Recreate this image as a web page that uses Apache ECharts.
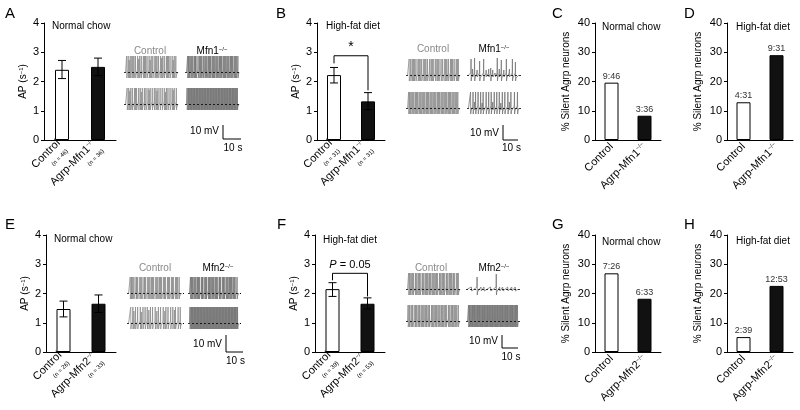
<!DOCTYPE html>
<html><head><meta charset="utf-8">
<script src="https://cdn.jsdelivr.net/npm/echarts@6/dist/echarts.min.js"></script>
<style>html,body{margin:0;padding:0;background:#fff}#c{width:800px;height:410px}</style>
</head><body><div id="c"></div>
<script>
// ================= DATA =================
const catsMfn1 = ['Control', 'Agrp-Mfn1'];
const catsMfn2 = ['Control', 'Agrp-Mfn2'];
const apTickMax = 4;       // AP axis 0..4
const silentTickMax = 40;  // % silent axis 0..40

// A: normal chow, Mfn1
const A_mean = [2.40, 2.50];
const A_low  = [2.10, 2.20];
const A_high = [2.72, 2.80];
const A_n    = [46, 36];
// B: high-fat diet, Mfn1
const B_mean = [2.22, 1.32];
const B_low  = [1.95, 1.04];
const B_high = [2.48, 1.62];
const B_n    = [31, 31];
const B_bracket = [2.62, 2.88, 1.70];
const B_sig = '*';
// C / D: % silent neurons, Mfn1
const C_pct = [19.6, 8.3];
const C_ratio = ['9:46', '3:36'];
const D_pct = [12.9, 29.0];
const D_ratio = ['4:31', '9:31'];
// E: normal chow, Mfn2
const E_mean = [1.47, 1.65];
const E_low  = [1.20, 1.35];
const E_high = [1.74, 1.95];
const E_n    = [26, 33];
// F: high-fat diet, Mfn2
const F_mean = [2.15, 1.65];
const F_low  = [1.90, 1.47];
const F_high = [2.37, 1.85];
const F_n    = [39, 53];
const F_bracket = [2.45, 2.69, 1.90];
const F_sig = 'P = 0.05';
// G / H: % silent neurons, Mfn2
const G_pct = [26.9, 18.2];
const G_ratio = ['7:26', '6:33'];
const H_pct = [5.1, 22.6];
const H_ratio = ['2:39', '12:53'];

// Spike trains (time 0..100 of the sweep; [time, height] where height differs)
const trA_ctrl1 = [2,5,[7,12],9,12,14,16,19,23,[25,13],27,30,34,36,38,41,45,[47,12],49,52,56,58,60,63,67,[69,14],71,74,78,80,82,85,89,[91,12],93,96];
const trA_ctrl2 = [3,6,[8,13],10,13,17,19,21,25,28,[30,12],32,36,39,43,[45,14],47,51,55,58,[60,13],62,66,70,74,[76,12],78,81,85,89,[91,14],93,97];
const trA_mut1  = [2,4,5,8,10,12,15,17,18,22,25,27,29,32,35,37,39,42,44,46,49,51,53,56,58,60,63,65,67,70,72,74,77,79,81,84,86,88,91,93,95,98];
const trA_mut2  = [1,3,4,6,7,9,10,12,13,15,16,18,19,21,22,24,25,27,28,30,31,33,34,36,37,39,40,42,43,45,46,48,49,51,52,54,55,57,58,60,61,63,64,66,67,69,70,72,73,75,76,78,79,81,82,84,85,87,88,90,91,93,94,96,97];
const trB_ctrl1 = [3,6,9,11,13,16,20,22,24,27,31,33,35,38,42,45,47,49,53,56,58,60,64,67,71,73,75,78,82,84,86,89,93,95,97];
const trB_ctrl2 = [2,4,5,8,10,12,15,17,19,22,24,26,29,31,33,36,38,40,43,45,47,50,52,54,57,59,61,64,66,68,71,73,75,78,80,82,85,87,89,92,94,96];
const trB_mut1  = [[5,16],[8,6],[12,17],[17,5],[22,14],[30,16],[35,5],[40,6],[44,7],[48,5],[53,4],[57,17],[61,6],[65,15],[70,5],[75,16],[81,6],[87,16],[93,13]];
const trB_mut2  = [4,9,[12,6],14,19,24,[27,5],29,35,40,45,[48,6],51,56,61,[64,5],67,72,78,[81,6],84,91,97];
const trE_ctrl1 = [3,5,6,8,10,14,15,17,21,23,25,29,30,32,36,38,40,43,45,47,51,53,55,58,60,62,66,67,69,73,75,77,81,82,84,88,90,92,95];
const trE_ctrl2 = [4,8,[10,12],13,17,22,[24,11],27,31,35,[38,13],41,45,50,[53,12],56,60,65,[68,12],70,74,79,83,[86,13],88,93,97];
const trE_mut1  = [2,4,6,9,11,13,16,18,20,24,26,27,31,33,34,38,40,42,45,47,49,52,54,56,60,61,63,67,69,70,74,76,78,81,83,85,88,90,92,96];
const trE_mut2  = [1,3,4,6,7,9,10,12,13,15,16,18,19,21,22,24,25,27,28,30,31,33,34,36,37,39,40,42,43,45,46,48,49,51,52,54,55,57,58,60,61,63,64,66,67,69,70,72,73,75,76,78,79,81,82,84,85,87,88,90,91,93,94,96,97];
const trF_ctrl1 = [2,4,5,8,10,11,15,16,18,21,23,24,28,29,31,34,36,38,41,42,44,47,49,51,54,55,57,61,62,64,67,69,70,74,75,77,80,82,84,87,88,90,94,95,97];
const trF_ctrl2 = [1,3,4,7,9,10,14,15,17,20,22,23,26,28,30,33,35,36,39,41,42,46,47,49,52,54,55,58,60,62,65,66,68,71,73,74,78,79,81,84,86,87,90,92,94,97];
const trF_mut1  = [[8,3],[19,12],[27,2],[33,3],[46,2],[57,15],[64,2],[70,3],[80,2],[88,2],[95,2]];
const trF_mut2  = [2,4,5,7,9,10,12,14,15,17,19,20,22,24,25,27,29,30,32,34,35,37,39,40,42,44,45,47,49,50,52,54,55,57,59,60,62,64,65,67,69,70,72,74,75,77,79,80,82,84,85,87,89,90,92,94,95,97,99];

// ================= BUILD =================
const FONT = '"Liberation Sans", Arial, Helvetica, sans-serif';
const grids = [], xAxes = [], yAxes = [], series = [], graphics = [];

function errRender(params, api) {
  const i = api.value(0);
  const lo = api.coord([i, api.value(1)]);
  const hi = api.coord([i, api.value(2)]);
  const w = 4, st = {stroke: '#000', lineWidth: 1};
  return {type: 'group', children: [
    {type: 'line', shape: {x1: lo[0], y1: lo[1], x2: hi[0], y2: hi[1]}, style: st},
    {type: 'line', shape: {x1: lo[0]-w, y1: lo[1], x2: lo[0]+w, y2: lo[1]}, style: st},
    {type: 'line', shape: {x1: hi[0]-w, y1: hi[1], x2: hi[0]+w, y2: hi[1]}, style: st}
  ]};
}
function bracketRender(label) {
  return function(params, api) {
    const a = api.coord([0, api.value(1)]);
    const b = api.coord([0, api.value(2)]);
    const c = api.coord([1, api.value(2)]);
    const d = api.coord([1, api.value(3)]);
    const st = {stroke: '#000', lineWidth: 1, fill: null};
    const isP = label.indexOf('P') === 0;
    return {type: 'group', children: [
      {type: 'polyline', shape: {points: [a, b, c, d]}, style: st},
      {type: 'text', x: (b[0]+c[0])/2, y: b[1] - (isP ? 8 : 9), style: {
        text: isP ? '{i|P}' + label.slice(1) : label,
        rich: {i: {fontStyle: 'italic', fontSize: 11, fontFamily: FONT}},
        fontSize: isP ? 11 : 14, fontFamily: FONT, fill: '#000', align: 'center', verticalAlign: 'middle'}}
    ]};
  };
}

function addBarPanel(cfg) {
  const gi = grids.length;
  grids.push({left: cfg.left, top: cfg.top, width: cfg.width, height: cfg.height, containLabel: false});
  xAxes.push({gridIndex: gi, type: 'category', data: cfg.cats, boundaryGap: true,
    axisLine: {lineStyle: {color: '#000', width: 1}},
    axisTick: {alignWithLabel: true, length: 4, lineStyle: {color: '#000'}},
    axisLabel: {rotate: 45, margin: 5, fontSize: 11, color: '#000', fontFamily: FONT, interval: 0,
      formatter: function (v, idx) {
        let s = v.indexOf('Agrp') === 0 ? v + '{sup|−/−}' : v;
        if (cfg.n) s += '\n{n|(n = ' + cfg.n[idx] + ')}';
        return s;
      },
      rich: {sup: {fontSize: 6, verticalAlign: 'top', fontFamily: FONT, color: '#000'},
             n: {fontSize: 6, fontFamily: FONT, color: '#000', padding: [4, 0, 0, 0]}}}
  });
  yAxes.push({gridIndex: gi, type: 'value', min: 0, max: cfg.max, interval: cfg.max / 4,
    splitLine: {show: false},
    axisLine: {show: true, lineStyle: {color: '#000', width: 1}},
    axisTick: {show: true, length: 3, lineStyle: {color: '#000'}},
    axisLabel: {fontSize: 11, color: '#000', fontFamily: FONT, margin: 5},
    name: cfg.yname, nameLocation: 'middle', nameGap: cfg.nameGap, nameRotate: 90,
    nameTextStyle: {fontSize: 10, color: '#000', fontFamily: FONT,
      rich: {sup: {fontSize: 6, verticalAlign: 'top', fontFamily: FONT, color: '#000'}}}
  });
  series.push({type: 'bar', xAxisIndex: gi, yAxisIndex: gi, barWidth: 14,
    data: cfg.values.map((v, i) => ({value: v, itemStyle: {color: i === 0 ? '#fff' : '#111', borderColor: '#000', borderWidth: 1}})),
    label: cfg.ratio ? {show: true, position: 'top', distance: 2, fontSize: 9, color: '#333', fontFamily: FONT,
      formatter: p => cfg.ratio[p.dataIndex]} : {show: false},
    silent: true, animation: false, z: 2});
  if (cfg.low) {
    series.push({type: 'custom', xAxisIndex: gi, yAxisIndex: gi, renderItem: errRender,
      data: cfg.low.map((l, i) => [i, l, cfg.high[i]]), z: 3, animation: false, silent: true});
  }
  if (cfg.bracket) {
    series.push({type: 'custom', xAxisIndex: gi, yAxisIndex: gi, renderItem: bracketRender(cfg.sig),
      data: [[0, cfg.bracket[0], cfg.bracket[1], cfg.bracket[2]]], z: 3, animation: false, silent: true, clip: false});
  }
}

// each spike drawn with a fixed waveform template (rise, peak, after-hyperpolarisation, recovery)
function spikePoints(train) {
  const pts = [[0, 0]];
  train.forEach(s => {
    const t = Array.isArray(s) ? s[0] : s;
    const h = Array.isArray(s) ? s[1] : 16;
    const d = h > 6 ? -6 : -2;
    pts.push([t - 0.4, 2], [t, h], [t + 0.35, d], [t + 0.9, -3], [t + 1.4, -1]);
  });
  pts.push([100, 0]);
  return pts;
}

function addTrace(train, left, baseline, width, color) {
  const gi = grids.length;
  const top = baseline - 17;
  grids.push({left: left, top: top, width: width, height: 24});
  xAxes.push({gridIndex: gi, type: 'value', min: -3, max: 104, show: false});
  yAxes.push({gridIndex: gi, type: 'value', min: -7, max: 17, show: false});
  series.push({type: 'line', xAxisIndex: gi, yAxisIndex: gi, data: spikePoints(train), showSymbol: false,
    lineStyle: {color: color, width: 0.8}, animation: false, silent: true,
    markLine: {symbol: 'none', silent: true, label: {show: false}, animation: false,
      lineStyle: {color: '#000', type: [2, 2], width: 0.8}, data: [{yAxis: 0}]}});
}

// bar panels
addBarPanel({left: 44, top: 23, width: 72, height: 117, cats: catsMfn1, values: A_mean, low: A_low, high: A_high, n: A_n,
  max: apTickMax, yname: 'AP (s{sup|−1})', nameGap: 16});
addBarPanel({left: 317, top: 23, width: 68, height: 117, cats: catsMfn1, values: B_mean, low: B_low, high: B_high, n: B_n,
  max: apTickMax, yname: 'AP (s{sup|−1})', nameGap: 16, bracket: B_bracket, sig: B_sig});
addBarPanel({left: 595, top: 23, width: 66, height: 117, cats: catsMfn1, values: C_pct, ratio: C_ratio,
  max: silentTickMax, yname: '% Silent Agrp neurons', nameGap: 24});
addBarPanel({left: 727, top: 23, width: 66, height: 117, cats: catsMfn1, values: D_pct, ratio: D_ratio,
  max: silentTickMax, yname: '% Silent Agrp neurons', nameGap: 24});
addBarPanel({left: 46, top: 235, width: 70, height: 117, cats: catsMfn2, values: E_mean, low: E_low, high: E_high, n: E_n,
  max: apTickMax, yname: 'AP (s{sup|−1})', nameGap: 16});
addBarPanel({left: 315, top: 235, width: 70, height: 117, cats: catsMfn2, values: F_mean, low: F_low, high: F_high, n: F_n,
  max: apTickMax, yname: 'AP (s{sup|−1})', nameGap: 16, bracket: F_bracket, sig: F_sig});
addBarPanel({left: 595, top: 235, width: 66, height: 117, cats: catsMfn2, values: G_pct, ratio: G_ratio,
  max: silentTickMax, yname: '% Silent Agrp neurons', nameGap: 24});
addBarPanel({left: 727, top: 235, width: 66, height: 117, cats: catsMfn2, values: H_pct, ratio: H_ratio,
  max: silentTickMax, yname: '% Silent Agrp neurons', nameGap: 24});

// traces
const CTRL_C = '#8f8f8f', MUT_C = '#777777';
addTrace(trA_ctrl1, 124, 72, 56, CTRL_C);
addTrace(trA_ctrl2, 124, 104, 56, CTRL_C);
addTrace(trA_mut1, 185, 72, 56, MUT_C);
addTrace(trA_mut2, 185, 104, 56, MUT_C);
addTrace(trB_ctrl1, 406, 75, 56, CTRL_C);
addTrace(trB_ctrl2, 406, 108, 56, CTRL_C);
addTrace(trB_mut1, 467, 75, 54, MUT_C);
addTrace(trB_mut2, 467, 108, 54, MUT_C);
addTrace(trE_ctrl1, 127, 293, 57, CTRL_C);
addTrace(trE_ctrl2, 127, 323, 57, CTRL_C);
addTrace(trE_mut1, 188, 293, 53, MUT_C);
addTrace(trE_mut2, 188, 323, 53, MUT_C);
addTrace(trF_ctrl1, 406, 289, 56, CTRL_C);
addTrace(trF_ctrl2, 406, 321, 56, CTRL_C);
addTrace(trF_mut1, 466, 289, 54, MUT_C);
addTrace(trF_mut2, 466, 321, 54, MUT_C);

// text annotations
function txt(x, y, text, size, color, align, extra) {
  graphics.push({type: 'text', x: x, y: y, silent: true, style: Object.assign({text: text, fontSize: size, fill: color || '#000',
    fontFamily: FONT, align: align || 'left', verticalAlign: 'middle',
    rich: {sup: {fontSize: 6, verticalAlign: 'top', fontFamily: FONT, fill: color || '#000'}}}, extra || {})});
}
function line(x1, y1, x2, y2) {
  graphics.push({type: 'line', silent: true, shape: {x1: x1, y1: y1, x2: x2, y2: y2}, style: {stroke: '#000', lineWidth: 1}});
}
// panel letters
[['A', 5, 14], ['B', 276, 14], ['C', 552, 14], ['D', 684, 14],
 ['E', 5, 225], ['F', 277, 225], ['G', 552, 225], ['H', 684, 225]].forEach(p => txt(p[1], p[2], p[0], 15, '#000'));
// panel titles
txt(52, 26, 'Normal chow', 10); txt(326, 26, 'High-fat diet', 10);
txt(602, 27, 'Normal chow', 10); txt(736, 27, 'High-fat diet', 10);
txt(54, 239, 'Normal chow', 10); txt(323, 240, 'High-fat diet', 10);
txt(602, 242, 'Normal chow', 10); txt(736, 241, 'High-fat diet', 10);
// trace labels
txt(150, 51, 'Control', 10, '#8a8a8a', 'center'); txt(212, 51, 'Mfn1{sup|−/−}', 10, '#000', 'center');
txt(433, 49, 'Control', 10, '#8a8a8a', 'center'); txt(494, 49, 'Mfn1{sup|−/−}', 10, '#000', 'center');
txt(155, 268, 'Control', 10, '#8a8a8a', 'center'); txt(218, 268, 'Mfn2{sup|−/−}', 10, '#000', 'center');
txt(431, 268, 'Control', 10, '#8a8a8a', 'center'); txt(494, 268, 'Mfn2{sup|−/−}', 10, '#000', 'center');
// scale bars
function scaleBar(x, yTop, yBot, xEnd, mvY, sY) {
  line(x, yTop, x, yBot); line(x, yBot, xEnd, yBot);
  txt(x - 4, mvY, '10 mV', 10, '#000', 'right');
  txt((x + xEnd) / 2 + 1, sY, '10 s', 10, '#000', 'center');
}
scaleBar(223, 125, 139, 241, 131, 148);
scaleBar(503, 125, 140, 518, 133, 148);
scaleBar(226, 335, 352, 243, 344, 361);
scaleBar(502, 335, 348, 518, 341, 357);

const chart = echarts.init(document.getElementById('c'), null, {renderer: 'canvas'});
chart.setOption({animation: false, backgroundColor: '#fff', grid: grids, xAxis: xAxes, yAxis: yAxes, series: series, graphic: graphics});
</script></body></html>
